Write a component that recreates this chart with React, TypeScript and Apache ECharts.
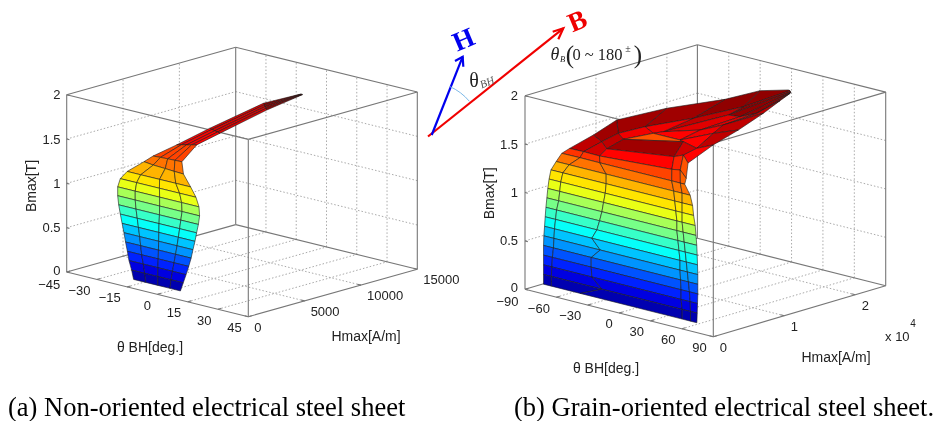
import React, { useEffect, useRef } from "react";
import * as echarts from "echarts";

const leftB = [0.1,0.2,0.3,0.4,0.5,0.6,0.7,0.8,0.9,1.0,1.1,1.2,1.3,1.4,1.5,1.6,1.67,1.777,1.8];
const leftTheta = [
  [-12,-6,0,6,11.2],[-13,-6.5,0,6.5,12.6],[-14.3,-7.2,0,7.3,14],[-15.1,-8,0.2,8,15.3],
  [-16,-8.5,0.3,8.8,16.5],[-16.8,-9,0.4,9.5,17.4],[-17.7,-9.6,0.5,10.2,18.4],[-18.6,-10.2,0.6,10.8,19.2],
  [-19.4,-10.8,0.8,11.4,20.1],[-19.9,-11.2,0.9,12,20.7],[-19.9,-11.2,0.9,11.8,20.4],[-18.6,-10.5,0.8,10.8,18.9],
  [-15.2,-8.5,0.8,8.8,16.1],[-11.6,-6,0.5,5.5,10.4],[-6.2,-3,0.3,3.6,6.8],[-2.1,-1,0.5,1.8,3.2],
  [-3.2,-1.5,0.5,2.4,4.2],[-3.6,-1.8,0,1.8,3.6],[-0.5,-0.25,0,0.25,0.5],
];
const leftH = [
  [30,30,30,30,30],[30,30,30,30,30],[30,30,30,30,30],[30,30,30,30,30],
  [30,30,30,30,30],[30,30,30,30,30],[30,30,30,30,30],[30,30,30,30,30],
  [30,30,30,30,30],[30,30,30,30,30],[30,30,30,30,30],[30,30,30,30,30],
  [30,30,40,50,56],[880,700,600,500,440],[716,800,850,900,946],[2070,2300,2480,2700,2900],
  [5221,5100,5000,4900,4794],[10044,9800,9540,9300,9056],[12800,12800,12800,12800,12800],
];

const rightB = [
  [0.1,0.1,0.1,0.1,0.1,0.1],[0.2,0.2,0.2,0.2,0.2,0.2],[0.3,0.3,0.3,0.3,0.3,0.3],[0.4,0.4,0.4,0.4,0.4,0.4],
  [0.5,0.5,0.5,0.5,0.5,0.5],[0.6,0.6,0.6,0.6,0.6,0.6],[0.7,0.7,0.7,0.7,0.7,0.7],[0.8,0.8,0.8,0.8,0.8,0.8],
  [0.9,0.9,0.9,0.9,0.9,0.9],[1,1,1,1,1,1],[1.1,1.1,1.1,1.1,1.1,1.1],[1.2,1.2,1.2,1.2,1.2,1.2],
  [1.3,1.3,1.3,1.3,1.3,1.3],[1.4,1.4,1.4,1.4,1.4,1.4],[1.5,1.5,1.5,1.5,1.5,1.5],
  [1.57,1.573,1.57,1.62,1.635,1.565],[1.76,1.72,1.66,1.72,1.7,1.68],[1.78,1.76,1.74,1.74,1.72,1.76],
  [1.8,1.78,1.72,1.72,1.76,1.78],[1.82,1.8,1.74,1.76,1.76,1.8],[1.84,1.82,1.78,1.78,1.8,1.84],
  [1.86,1.86,1.86,1.86,1.86,1.86],
];
const rightTheta = [
  [-72.5,-65,-37.4,60,68,74.1],[-72.5,-65,-16.7,60,68,74.4],[-72.5,-64.5,-26.3,59,67.7,74.7],[-72.5,-64,-26.9,59,67,75],
  [-72.5,-63,-26.9,58.5,66,75],[-72.2,-62.5,-18.3,58,65,75],[-71.5,-62,-26.3,58,64,74.7],[-70.9,-61,-21.5,57,63,74.4],
  [-70.2,-60,-18.9,56,62,74],[-69.3,-58,-16.7,55,61,73.3],[-68.4,-57,-15.1,55,60,72.5],[-67.2,-56,-13.5,54,60,71],
  [-65.4,-54,-12.6,53,60,70],[-60.4,-48,-12.6,52,60,67.7],[-54.9,-37.9,-18.6,49.9,58.4,62.5],
  [-47.6,-34.2,-18.9,50.2,58.2,63.9],[-26.6,-17.4,-12.5,46,44.7,57.6],[-37.4,-16.7,-7.1,28.1,43.2,52.7],
  [-28.7,-11.1,-5.4,20.1,32.4,42.9],[-10.8,2.5,0.3,19.8,23,30],[-4.4,11.6,11.5,20.5,26.6,23.4],
  [12.3,14.4,17,18.2,19,19.8],
];
const rightH = [
  [30,30,30,30,30,30],[30,30,30,30,30,30],[30,30,30,30,30,30],[30,30,30,30,30,30],
  [30,30,30,30,30,30],[30,30,30,30,30,30],[30,30,30,30,30,30],[30,30,30,30,30,30],
  [30,30,30,30,30,30],[30,30,30,30,30,30],[30,30,30,30,30,30],[30,30,30,30,30,30],
  [30,30,30,30,30,30],[30,30,30,30,30,30],[10,63,30,50,20,30],
  [30,30,30,30,30,30],[282,105,100,955,2459,1218],[5170,2339,1634,4904,4562,5464],
  [10932,5279,5611,5617,8495,10476],[16512,10082,6182,8483,11280,15905],[20505,15793,13689,14009,15477,19227],
  [22030,21960,21670,21490,21290,21065],
];
// colour values of the upper mesh faces (the surface dips in the middle)
const rightTopFaces = [
  [1.52,1.52,1.5,1.48,1.42],
  [1.72,1.68,1.6,1.55,1.45],
  [1.78,1.72,1.78,1.68,1.6],
  [1.78,1.62,1.47,1.6,1.72],
  [1.78,1.62,1.6,1.62,1.72],
  [1.8,1.72,1.66,1.66,1.72],
  [1.8,1.8,1.8,1.8,1.8],
];

const bTicks = [0, 0.5, 1, 1.5, 2];
const bTickLabels = ["0", "0.5", "1", "1.5", "2"];
const leftThetaTicks = [-45,-30,-15,0,15,30,45];
const leftThetaLabels = ["−45","−30","−15","0","15","30","45"];
const leftHTicks = [0,5000,10000,15000];
const leftHLabels = ["0","5000","10000","15000"];
const rightThetaTicks = [-90,-60,-30,0,30,60,90];
const rightThetaLabels = ["−90","−60","−30","0","30","60","90"];
const rightHTicks = [0,10000,20000];
const rightHLabels = ["0","1","2"];

const plots = [
  { ox: 66.7, oy: 272, tx: 181.6, ty: 44.7, hx: 169, hy: -47.4, zh: 177.3, thMin: -45, thMax: 45, hMax: 15000, cMax: 1.85 },
  { ox: 525, oy: 289.3, tx: 188.3, ty: 47.4, hx: 172.4, hy: -51, zh: 193.6, thMin: -90, thMax: 90, hMax: 24300, cMax: 1.85 },
];

function project(pi: number, th: number, h: number, b: number): [number, number] {
  const p = plots[pi];
  const a = (th - p.thMin) / (p.thMax - p.thMin);
  const c = h / p.hMax;
  return [p.ox + a * p.tx + c * p.hx, p.oy + a * p.ty + c * p.hy - (b / 2) * p.zh];
}

function clamp(v: number) { return Math.max(0, Math.min(1, v)); }
function jet(x: number) {
  const q = Math.min(63, Math.floor(clamp(x) * 64)) / 63;
  const r = clamp(1.5 - Math.abs(4 * q - 3));
  const g = clamp(1.5 - Math.abs(4 * q - 2));
  const b = clamp(1.5 - Math.abs(4 * q - 1));
  return `rgb(${Math.round(r * 255)},${Math.round(g * 255)},${Math.round(b * 255)})`;
}

function buildFaces(pi: number, th: number[][], h: number[][], b: number[][], colour: (i: number, j: number) => number) {
  const out: number[][] = [];
  for (let i = th.length - 2; i >= 0; i--) {
    for (let j = 0; j < th[i].length - 1; j++) {
      out.push([
        pi, colour(i, j),
        th[i][j], h[i][j], b[i][j],
        th[i][j + 1], h[i][j + 1], b[i][j + 1],
        th[i + 1][j + 1], h[i + 1][j + 1], b[i + 1][j + 1],
        th[i + 1][j], h[i + 1][j], b[i + 1][j],
      ]);
    }
  }
  return out;
}

function buildLines(pi: number, thTicks: number[], hTicks: number[]) {
  const p = plots[pi];
  const [t0, t1, h0, h1] = [p.thMin, p.thMax, 0, p.hMax];
  const out: number[][] = []; // pi, kind (0 grid, 1 frame), th,h,b, th,h,b
  const seg = (k: number, a: number[], c: number[]) => out.push([pi, k, ...a, ...c]);
  bTicks.slice(1, -1).forEach((b) => {
    seg(0, [t0, h0, b], [t0, h1, b]);
    seg(0, [t0, h1, b], [t1, h1, b]);
  });
  thTicks.slice(1, -1).forEach((t) => {
    seg(0, [t, h1, 0], [t, h1, 2]);
    seg(0, [t, h0, 0], [t, h1, 0]);
  });
  hTicks.filter((h) => h > 0 && h < h1).forEach((h) => {
    seg(0, [t0, h, 0], [t0, h, 2]);
    seg(0, [t0, h, 0], [t1, h, 0]);
  });
  [0, 2].forEach((b) => {
    seg(1, [t0, h0, b], [t1, h0, b]);
    seg(1, [t0, h1, b], [t1, h1, b]);
    seg(1, [t0, h0, b], [t0, h1, b]);
    seg(1, [t1, h0, b], [t1, h1, b]);
  });
  ([[t0, h0], [t1, h0], [t0, h1], [t1, h1]] as number[][]).forEach(([t, h]) => seg(1, [t, h, 0], [t, h, 2]));
  thTicks.forEach((t) => seg(1, [t, h0, 0], [t, h1 * 0.02, 0]));
  hTicks.forEach((h) => seg(1, [t1, h, 0], [t1 - (t1 - t0) * 0.02, h, 0]));
  bTicks.forEach((b) => seg(1, [t0, h0, b], [t0 + (t1 - t0) * 0.015, h0, b]));
  return out;
}

const SANS = '"Liberation Sans", Arial, sans-serif';
const SERIF = '"Liberation Serif", "Times New Roman", serif';

function txt(text: string, x: number, y: number, size: number, align = "center", extra: any = {}) {
  const { rotation, fill, family, weight, italic } = extra;
  return {
    type: "text", x, y, rotation: rotation || 0, z: 10,
    style: {
      text, fill: fill || "#222",
      font: `${italic ? "italic " : ""}${weight || "normal"} ${size}px ${family || SANS}`,
      align, verticalAlign: "middle", textAlign: align, textVerticalAlign: "middle",
    },
  };
}

function tickTexts(pi: number, thT: number[], thL: string[], hT: number[], hL: string[], size: number, bx: number, hOffset: number) {
  const p = plots[pi];
  const out: any[] = [];
  bTicks.forEach((b, i) => {
    const [, y] = project(pi, p.thMin, 0, b);
    out.push(txt(bTickLabels[i], bx, b === 0 ? y - 2 : y, size, "right"));
  });
  thT.forEach((t, i) => {
    const [x, y] = project(pi, t, 0, 0);
    out.push(txt(thL[i], x - 6.5, y + (i === 0 ? 12.3 : 10.8), size, "right"));
  });
  hT.forEach((h, i) => {
    const [x, y] = project(pi, p.thMax, h, 0);
    out.push(txt(hL[i], x + hOffset, y + 10.5, size, "left"));
  });
  return out;
}

function arrow(color: string, from: number[], tip: number[], a1: number[], a2: number[], width: number) {
  return [
    { type: "line", z: 9, shape: { x1: from[0], y1: from[1], x2: tip[0], y2: tip[1] }, style: { stroke: color, lineWidth: width } },
    { type: "polyline", z: 9, shape: { points: [a1, tip, a2] }, style: { stroke: color, lineWidth: width, fill: "none" } },
  ];
}

export default function App() {
  const ref = useRef<HTMLDivElement>(null);
  useEffect(() => {
    document.body.style.margin = "0";
    const chart = echarts.init(ref.current!, undefined, { renderer: "svg" });
    const faces = [
      ...buildFaces(0, leftTheta, leftH, leftTheta.map((r, i) => r.map(() => leftB[i])), (i) => leftB[i]),
      ...buildFaces(1, rightTheta, rightH, rightB, (i, j) => (i >= 14 ? rightTopFaces[i - 14][j] : rightB[i][j])),
    ];
    const lines = [
      ...buildLines(0, leftThetaTicks, leftHTicks),
      ...buildLines(1, rightThetaTicks, rightHTicks),
    ];
    const deg = Math.PI / 180;
    const graphics: any[] = [
      ...tickTexts(0, leftThetaTicks, leftThetaLabels, leftHTicks, leftHLabels, 13, 60.5, 6),
      ...tickTexts(1, rightThetaTicks, rightThetaLabels, rightHTicks, rightHLabels, 13, 518, 6.5),
      txt("θ BH[deg.]", 150, 347.3, 14),
      txt("Hmax[A/m]", 366, 336, 14),
      txt("Bmax[T]", 30.7, 186, 14, "center", { rotation: Math.PI / 2 }),
      txt("θ BH[deg.]", 606, 368, 14),
      txt("Hmax[A/m]", 836, 357.3, 14),
      txt("Bmax[T]", 489.3, 193.3, 14, "center", { rotation: Math.PI / 2 }),
      txt("x 10", 897.3, 336, 13),
      txt("4", 913, 323.3, 10),
      ...arrow("#f00000", [428, 136.5], [563.3, 28.3], [552.7, 31.7], [558.3, 39.3], 2.2),
      ...arrow("#0000ee", [431.7, 135], [462.7, 56.7], [455, 61], [463.3, 66.7], 2.2),
      {
        type: "arc", z: 9,
        shape: { cx: 427.3, cy: 136.7, r: 55, startAngle: -66 * deg, endAngle: -40 * deg, clockwise: true },
        style: { stroke: "#7db9e8", lineWidth: 1, fill: "none" },
      },
      txt("H", 463.3, 39.3, 27, "center", { fill: "#0000ee", family: SERIF, weight: "bold", rotation: 0.4 }),
      txt("B", 577.3, 20.7, 27, "center", { fill: "#ee0000", family: SERIF, weight: "bold", rotation: 0.4 }),
      txt("θ", 474, 80, 20, "center", { family: SERIF }),
      txt("BH", 487, 82, 11, "center", { family: SERIF, italic: true, rotation: 0.4, fill: "#555" }),
      txt("θ", 555, 53.5, 18, "center", { family: SERIF, italic: true }),
      txt("B", 562.5, 59, 8.5, "center", { family: SERIF, italic: true }),
      txt("(", 570, 54.5, 25, "center", { family: SERIF }),
      txt("0 ~ 180", 597.5, 54.5, 16.5, "center", { family: SERIF }),
      txt("±", 628, 48, 10, "center", { family: SERIF }),
      txt(")", 638, 54.5, 25, "center", { family: SERIF }),
      txt("(a) Non-oriented electrical steel sheet", 8, 407, 26.5, "left", { family: SERIF, fill: "#000" }),
      txt("(b) Grain-oriented electrical steel sheet.", 514, 407, 26.5, "left", { family: SERIF, fill: "#000" }),
    ];
    chart.setOption({
      animation: false,
      backgroundColor: "#fff",
      grid: { left: 0, right: 0, top: 0, bottom: 0 },
      xAxis: { type: "value", min: 0, max: 940, show: false },
      yAxis: { type: "value", min: 0, max: 421, inverse: true, show: false },
      graphic: { elements: graphics },
      series: [
        {
          type: "custom", silent: true, z: 1, clip: false, encode: { x: 2, y: 3 }, data: lines,
          renderItem: (_: any, api: any) => {
            const pi = api.value(0), kind = api.value(1);
            const a = api.coord(project(pi, api.value(2), api.value(3), api.value(4)));
            const c = api.coord(project(pi, api.value(5), api.value(6), api.value(7)));
            return {
              type: "line",
              shape: { x1: a[0], y1: a[1], x2: c[0], y2: c[1] },
              style: kind
                ? { stroke: "#777", lineWidth: 1.1, fill: "none" }
                : { stroke: "#aaa", lineWidth: 1, lineDash: [1.5, 2], fill: "none" },
            };
          },
        },
        {
          type: "custom", silent: true, z: 2, clip: false, encode: { x: 2, y: 3 }, data: faces,
          renderItem: (_: any, api: any) => {
            const pi = api.value(0);
            const pts: number[][] = [];
            for (let k = 0; k < 4; k++) {
              pts.push(api.coord(project(pi, api.value(2 + k * 3), api.value(3 + k * 3), api.value(4 + k * 3))));
            }
            return {
              type: "polygon",
              shape: { points: pts },
              style: { fill: jet(api.value(1) / plots[pi].cMax), stroke: "#1c1c1c", lineWidth: 0.6 },
            };
          },
        },
      ],
    });
    return () => chart.dispose();
  }, []);
  return <div ref={ref} style={{ width: 940, height: 421, filter: "blur(0.35px)" }} />;
}
